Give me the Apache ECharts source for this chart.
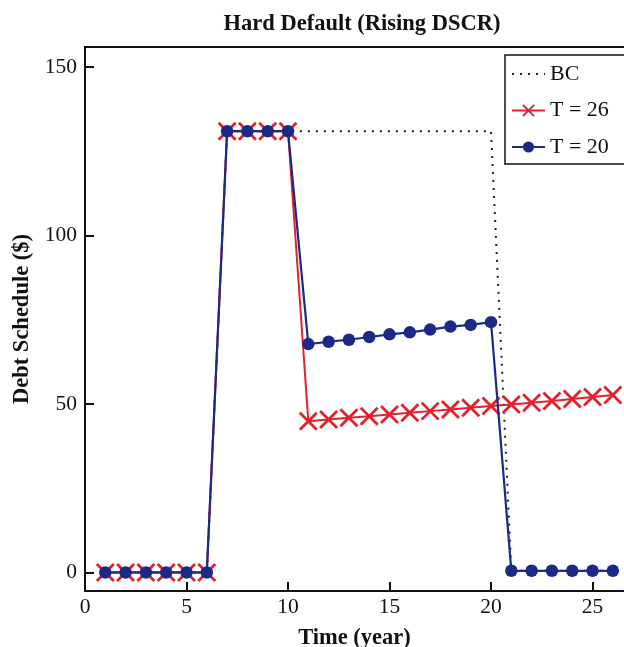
<!DOCTYPE html>
<html><head><meta charset="utf-8">
<script src="https://cdn.jsdelivr.net/npm/echarts@6/dist/echarts.min.js"></script>
<style>html,body{margin:0;padding:0;background:#fff;overflow:hidden}#c{width:624px;height:647px}</style>
</head><body><div id="c"></div>
<script>
const years = [1,2,3,4,5,6,7,8,9,10,11,12,13,14,15,16,17,18,19,20,21,22,23,24,25,26];
const bcValues = [0,0,0,0,0,0,131,131,131,131,131,131,131,131,131,131,131,131,131,131,0.5,0.5,0.5,0.5,0.5,0.5];
const t26Values = [0,0,0,0,0,0,131,131,131,131,44.9,45.4,45.9,46.4,46.9,47.4,47.9,48.4,48.9,49.4,49.9,50.4,50.9,51.5,52.1,52.7];
const t20Values = [0,0,0,0,0,0,131,131,131,131,67.8,68.5,69.1,69.9,70.7,71.3,72.1,73.0,73.5,74.3,0.5,0.5,0.5,0.5,0.5,0.5];
const yTicks = [0,50,100,150];
const seriesNames = ['BC','T = 26','T = 20'];

const pair = (xs, ys) => xs.map((x,i)=>[x, ys[i]]);
const xPath = 'path://M0,0 L10,10 M10,0 L0,10';
const font = '"Liberation Serif","Times New Roman",serif';
const chart = echarts.init(document.getElementById('c'), null, {renderer:'canvas'});
chart.setOption({
  animation:false,
  backgroundColor:'#fff',
  title:{text:'Hard Default (Rising DSCR)', left:357, top:8, textAlign:'center',
    textStyle:{fontFamily:font, fontWeight:'bold', fontSize:22.5, color:'#111'}},
  grid:{left:85, top:47, bottom:56, right:0, show:false, outerBoundsMode:'none', containLabel:false},
  legend:{orient:'vertical', left:505, top:55, itemWidth:33, itemHeight:14, itemGap:14.5,
    padding:[8,60,6,6], borderColor:'#111', borderWidth:1.5, backgroundColor:'#fff',
    textStyle:{fontFamily:font, fontSize:22, color:'#111'},
    data:[{name:seriesNames[0], itemStyle:{opacity:0}}, seriesNames[1], seriesNames[2]]},
  xAxis:[{type:'value', min:0, max:26.55, interval:5,
    name:'Time (year)', nameLocation:'middle', nameGap:36,
    nameTextStyle:{fontFamily:font, fontWeight:'bold', fontSize:22.5, color:'#111'},
    axisLine:{show:true, onZero:false, lineStyle:{color:'#111', width:2}},
    axisTick:{show:true, inside:true, length:9, lineStyle:{color:'#111', width:2}},
    axisLabel:{fontFamily:font, fontSize:21.5, color:'#111', margin:5, showMaxLabel:false},
    splitLine:{show:false}},
    {type:'value', position:'top', min:0, max:26.55,
    axisLine:{show:true, onZero:false, lineStyle:{color:'#111', width:2}},
    axisTick:{show:false}, axisLabel:{show:false}, splitLine:{show:false}}],
  yAxis:{type:'value', min:-5.5, max:156,
    name:'Debt Schedule ($)', nameLocation:'middle', nameGap:48, nameRotate:90,
    nameTextStyle:{fontFamily:font, fontWeight:'bold', fontSize:22.5, color:'#111'},
    axisLine:{show:true, onZero:false, lineStyle:{color:'#111', width:2}},
    axisTick:{show:true, inside:true, length:9, customValues:yTicks, lineStyle:{color:'#111', width:2}},
    axisLabel:{fontFamily:font, fontSize:21.5, color:'#111', margin:8, customValues:yTicks},
    splitLine:{show:false}},
  series:[
    {name:seriesNames[0], type:'line', data:pair(years,bcValues), showSymbol:false, symbol:'none',
      lineStyle:{color:'#222', width:2, type:[2,6]}, itemStyle:{color:'#222'}, z:1},
    {name:seriesNames[1], type:'line', data:pair(years,t26Values), symbol:xPath, symbolSize:17,
      lineStyle:{color:'#e0222c', width:2}, itemStyle:{color:'transparent', borderColor:'#e0222c', borderWidth:2.8}, z:2},
    {name:seriesNames[2], type:'line', data:pair(years,t20Values), symbol:'circle', symbolSize:12.5,
      lineStyle:{color:'#1c2a85', width:2.2}, itemStyle:{color:'#1c2a85'}, z:3}
  ]
});
</script></body></html>
